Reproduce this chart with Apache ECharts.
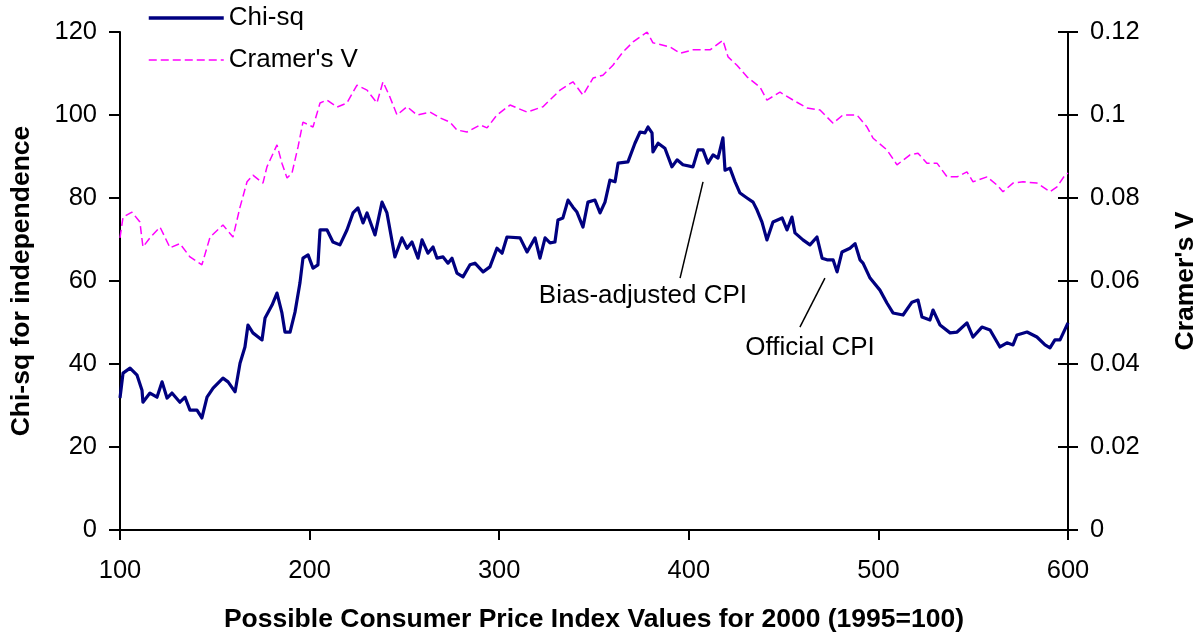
<!DOCTYPE html>
<html>
<head>
<meta charset="utf-8">
<script src="https://cdn.jsdelivr.net/npm/echarts@6/dist/echarts.min.js"></script>
<style>html,body{margin:0;padding:0;background:#fff}#c{width:1203px;height:639px}</style>
</head>
<body>
<div id="c"></div>
<script>
// X values: possible CPI values for 2000 (1995=100)
var chiCPI = [100,101.6,105.3,109,111.6,112.1,115.8,119.5,122.2,124.8,127.4,131.6,134.3,136.9,140.6,143.2,145.9,149.1,154.3,157,160.7,163.3,165.9,167.5,170.1,174.9,176.5,180.2,182.8,185.4,187,189.7,192.3,194.9,196.5,199.2,201.8,204.4,205.5,209.2,212.3,216,219.7,222.9,225.5,228.2,230.3,234.5,238.2,240.8,245,248.7,251.4,254,257.2,259.3,262.4,265.1,267.2,270.4,273,275.1,277.7,280.9,284.6,287.2,291.5,295.1,298.8,301.5,304.1,311,314.7,318.9,321.5,324.2,326.8,329.4,331,333.6,336.3,338.9,341,344.2,346.8,350.5,353.2,355.8,358.4,361.1,362.7,367.9,371.6,374.3,376.9,378.5,380.6,381.1,383.8,387.4,391.1,393.8,396.9,402.2,404.9,407.5,410.1,412.8,415.4,418,419.1,421.7,424.4,427,430.7,433.9,436,438.6,441.2,444.4,449.2,451.8,454.4,456,460.2,463.9,467.6,470.3,472.9,476.1,478.2,480.8,485,487.7,490.3,491.9,495.6,500.8,504.5,507.7,513,517.7,520.9,523,527.2,528.8,532.5,537.8,541.5,546.7,549.9,554.6,558.9,564.1,567.8,571,573.1,578.4,583.6,587.9,590.5,593.1,595.8,600];
var chiValues = [31.8,37.8,39,37.3,33.7,30.8,33,32,35.7,31.8,33,30.8,32,28.9,28.9,27,32,34.2,36.6,35.7,33.3,40.2,44.1,49.4,47.5,45.8,51.1,54.2,57.1,52.3,47.7,47.7,52.5,59.5,65.5,66.3,63.1,63.9,72.3,72.3,69.4,68.7,72.3,76.4,77.6,74,76.4,71.1,79,76.4,65.8,70.4,67.9,69.4,65.5,69.9,66.7,68.2,65.5,65.8,64.3,65.5,61.9,61,63.9,64.3,62.2,63.4,67.9,66.7,70.6,70.4,67,70.4,65.5,70.4,69.2,69.4,74.7,75.2,79.5,77.8,76.6,73,79,79.5,76.4,79,84.3,83.9,88.4,88.7,93.2,95.9,95.7,97.1,95.7,91.1,93.2,92,87.5,89.2,88,87.5,91.6,91.6,88.4,90.4,89.6,94.5,86.7,87.2,83.9,81.2,80,79,77.1,74.2,69.9,74.2,75.2,72.3,75.4,71.6,69.9,68.7,70.6,65.5,65.1,65.1,62.2,67,67.9,69,65.1,64.3,60.7,57.8,54.7,52.3,51.8,54.9,55.4,51.3,50.6,53,49.4,47.5,47.7,49.9,46.5,48.9,48.2,44.1,45.1,44.6,47,47.7,46.5,44.6,43.9,45.8,45.8,49.9];

var cramerCPI = [100,101.6,106.3,110.5,112.1,115.8,121.1,126.4,131.6,136.9,143.2,147.5,154.3,159.6,163.3,167,170.1,175.4,177.5,182.8,185.4,188.1,190.7,193.9,196.5,201.8,205.5,209.2,214.5,219.7,225,230.3,235.5,238.7,242.4,246.1,251.4,256.6,263.5,268.8,274,277.7,283,289.9,293.6,298.8,305.7,314.7,323.1,332.1,338.9,344.2,349.5,354.7,360,365.3,370.6,374.3,378,381.1,390.1,395.4,402.2,411.2,418,420.7,425.4,430.7,437.6,441.2,448.1,455,462.3,469.2,476.1,481.3,488.7,494,497.2,504.5,509.8,516.7,520.9,525.6,530.9,536.2,541.5,546.7,549.9,557.3,562.6,565.7,571,576.3,583.6,590.5,594.2,598.4,600];
var cramerValues = [0.0704,0.0754,0.0766,0.0742,0.0682,0.0704,0.073,0.068,0.069,0.0658,0.0639,0.0706,0.0735,0.0706,0.0778,0.0839,0.0855,0.0836,0.0875,0.0928,0.0884,0.0848,0.086,0.0923,0.0983,0.0971,0.1029,0.1036,0.1019,0.1029,0.1072,0.106,0.1029,0.108,0.1043,0.1,0.102,0.1,0.1007,0.0993,0.0983,0.0964,0.0959,0.0976,0.0969,0.1,0.1024,0.1007,0.102,0.106,0.108,0.1048,0.1089,0.1096,0.112,0.1152,0.1176,0.1188,0.12,0.1174,0.1164,0.1149,0.1157,0.1157,0.118,0.114,0.112,0.1092,0.1067,0.1036,0.1055,0.1036,0.1017,0.1012,0.098,0.1,0.1,0.0971,0.0944,0.0916,0.088,0.0904,0.0908,0.0884,0.0884,0.0851,0.0851,0.0863,0.0839,0.0851,0.0831,0.0815,0.0836,0.0839,0.0836,0.0815,0.0827,0.0855,0.086];

var xTicks = [100, 200, 300, 400, 500, 600];
var leftTicks = [0, 20, 40, 60, 80, 100, 120];
var rightTicks = [0, 0.02, 0.04, 0.06, 0.08, 0.1, 0.12];

// Annotation positions in data units
var annoBias = {text: 'Bias-adjusted CPI', at: [375.8, 56.4], from: [407.5, 83.9], to: [395.4, 60.7]};
var annoOfficial = {text: 'Official CPI', at: [463.9, 43.9], from: [471.8, 60.7], to: [458.6, 48.9]};

function zip(a, b) { return a.map(function (v, i) { return [v, b[i]]; }); }

var FONT = 'Liberation Sans, Arial, sans-serif';
var TICK_FS = 25.5, TITLE_FS = 26.5, TEXT_FS = 26;
var chart = echarts.init(document.getElementById('c'), null, {renderer: 'canvas'});

var axisLine = {show: true, lineStyle: {color: '#000', width: 2}};
var option = {
  animation: false,
  backgroundColor: '#fff',
  textStyle: {fontFamily: FONT},
  grid: {left: 120, right: 135, top: 32, bottom: 109, containLabel: false, outerBoundsMode: 'none'},
  legend: {
    orient: 'vertical', left: 142, top: 0, padding: 5, itemWidth: 75, itemHeight: 14, itemGap: 16,
    textStyle: {fontSize: TEXT_FS, color: '#000', fontFamily: FONT},
    itemStyle: {color: 'rgba(0,0,0,0)', borderColor: 'rgba(0,0,0,0)', borderWidth: 0, opacity: 0},
    data: [
      {name: 'Chi-sq', lineStyle: {width: 3.5}},
      {name: "Cramer's V", lineStyle: {width: 1.5}}
    ]
  },
  xAxis: {
    type: 'value', min: xTicks[0], max: xTicks[xTicks.length - 1], interval: 100,
    axisLine: axisLine,
    axisTick: {show: true, length: 10, lineStyle: {color: '#000', width: 2}},
    axisLabel: {fontSize: TICK_FS, color: '#000', margin: 28, fontFamily: FONT},
    splitLine: {show: false},
    name: 'Possible Consumer Price Index Values for 2000 (1995=100)',
    nameLocation: 'middle', nameGap: 76,
    nameTextStyle: {fontSize: TITLE_FS, fontWeight: 'bold', color: '#000', fontFamily: FONT}
  },
  yAxis: [
    {
      type: 'value', min: leftTicks[0], max: leftTicks[leftTicks.length - 1], interval: 20,
      position: 'left',
      axisLine: axisLine,
      axisTick: {show: true, length: 11, lineStyle: {color: '#000', width: 2}},
      axisLabel: {fontSize: TICK_FS, color: '#000', margin: 23, fontFamily: FONT},
      splitLine: {show: false},
      name: 'Chi-sq for independence', nameLocation: 'middle', nameGap: 85, nameRotate: 90,
      nameTextStyle: {fontSize: TITLE_FS, fontWeight: 'bold', color: '#000', fontFamily: FONT}
    },
    {
      type: 'value', min: rightTicks[0], max: rightTicks[rightTicks.length - 1], interval: 0.02,
      position: 'right',
      axisLine: axisLine,
      axisTick: {show: true, length: 10, lineStyle: {color: '#000', width: 2}},
      axisLabel: {fontSize: TICK_FS, color: '#000', margin: 22, fontFamily: FONT},
      splitLine: {show: false},
      name: "Cramer's V", nameLocation: 'middle', nameGap: 104, nameRotate: 90,
      nameTextStyle: {fontSize: TITLE_FS, fontWeight: 'bold', color: '#000', fontFamily: FONT}
    },
    {
      type: 'value', min: rightTicks[0], max: rightTicks[rightTicks.length - 1], interval: 0.02,
      position: 'right',
      axisLine: {show: false},
      axisTick: {show: true, inside: true, length: 10, lineStyle: {color: '#000', width: 2}},
      axisLabel: {show: false},
      splitLine: {show: false}
    }
  ],
  series: [
    {
      name: "Cramer's V", type: 'line', yAxisIndex: 1, symbol: 'none', showSymbol: false,
      data: zip(cramerCPI, cramerValues),
      lineStyle: {color: '#FF00FF', width: 1.5, type: [8, 4]},
      itemStyle: {color: '#FF00FF'},
      z: 2
    },
    {
      name: 'Chi-sq', type: 'line', yAxisIndex: 0, symbol: 'none', showSymbol: false,
      data: zip(chiCPI, chiValues),
      lineStyle: {color: '#000080', width: 3.2, join: 'round'},
      itemStyle: {color: '#000080'},
      z: 3,
      markLine: {
        silent: true, symbol: 'none', animation: false,
        lineStyle: {color: '#000', width: 1.5, type: 'solid'},
        label: {show: false},
        data: [
          [{coord: annoBias.from}, {coord: annoBias.to}],
          [{coord: annoOfficial.from}, {coord: annoOfficial.to}]
        ]
      },
      markPoint: {
        silent: true, symbol: 'circle', symbolSize: 1, animation: false,
        itemStyle: {color: 'rgba(0,0,0,0)'},
        label: {show: true, position: 'inside', fontSize: TEXT_FS, color: '#000', fontFamily: FONT,
          formatter: function (p) { return p.name; }},
        data: [
          {name: annoBias.text, coord: annoBias.at},
          {name: annoOfficial.text, coord: annoOfficial.at}
        ]
      }
    }
  ]
};
chart.setOption(option);
</script>
</body>
</html>
